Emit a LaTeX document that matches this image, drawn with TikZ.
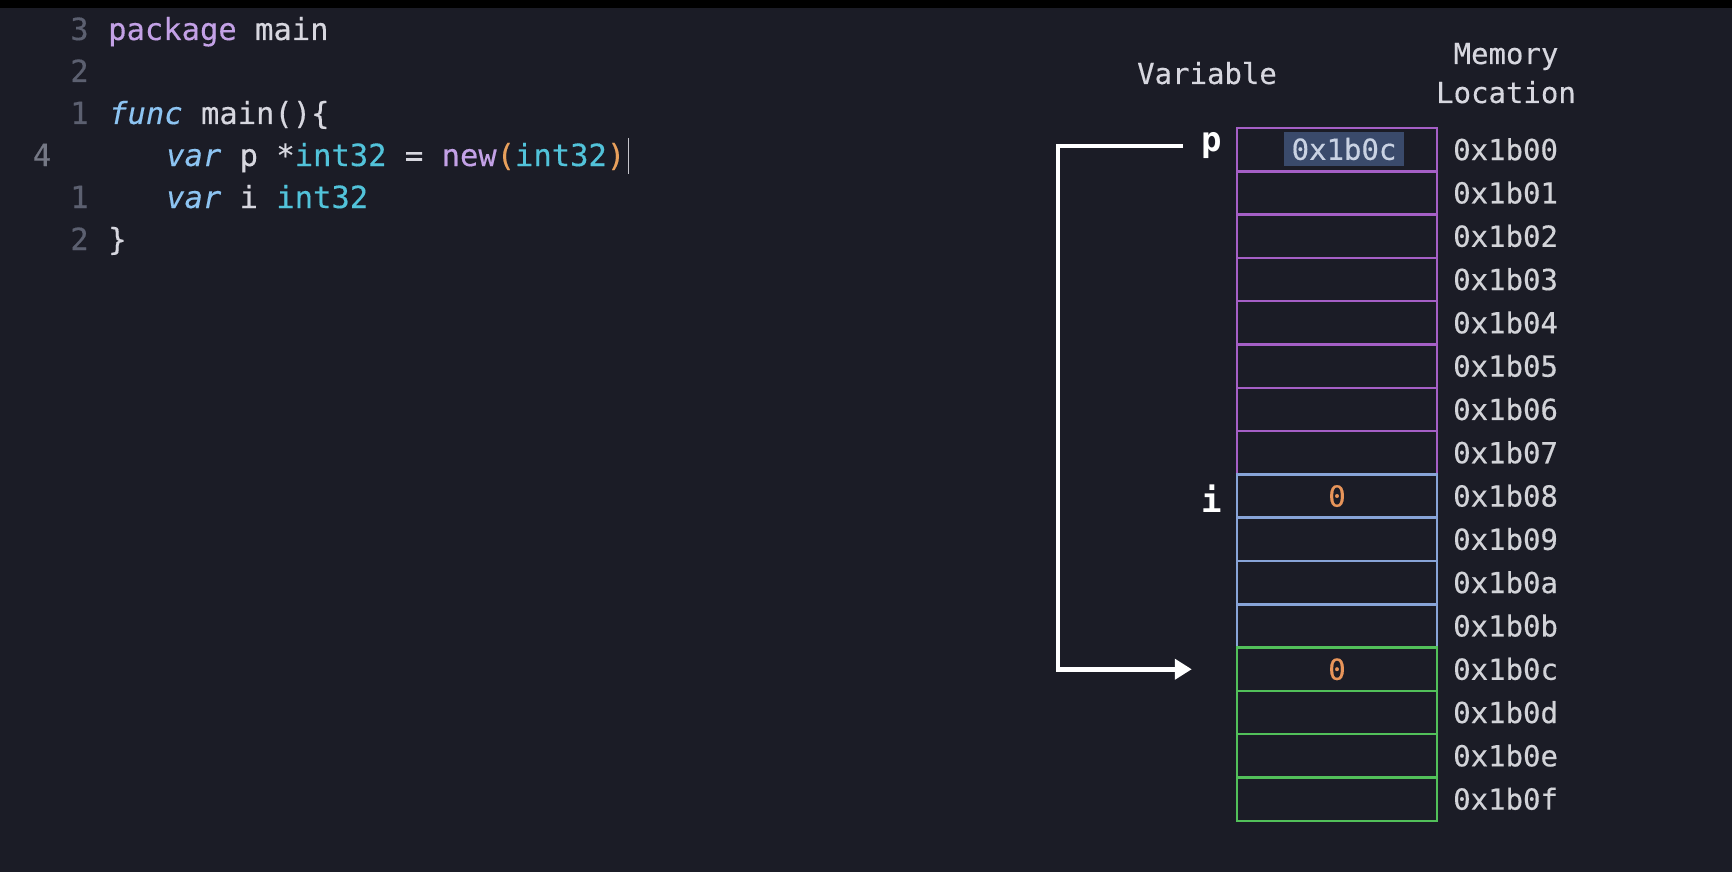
\documentclass[tikz,border=0pt]{standalone}
\usepackage{fontspec}
\usepackage{xcolor}
\usetikzlibrary{arrows.meta}
\newfontfamily\monofont{DejaVu Sans Mono}[ItalicFont={DejaVu Sans Mono Oblique}, FakeBold=0.35]
\newfontfamily\monobold{DejaVu Sans Mono Bold}
\definecolor{bg}{HTML}{1B1C26}
\definecolor{lnum}{HTML}{5C6070}
\definecolor{kwp}{HTML}{C3A1E6}
\definecolor{plain}{HTML}{D7D7DF}
\definecolor{kwb}{HTML}{8DC4F2}
\definecolor{typ}{HTML}{52C3DA}
\definecolor{par}{HTML}{E8A05C}
\definecolor{cpurple}{HTML}{A55FC6}
\definecolor{cblue}{HTML}{88A4D8}
\definecolor{cgreen}{HTML}{52C05A}
\definecolor{addrc}{HTML}{D2D3D8}
\definecolor{hl}{HTML}{3A4A6B}
\definecolor{hltext}{HTML}{C9D2E3}
\definecolor{zero}{HTML}{E8955A}
\tikzset{
  code/.style={inner sep=0pt, anchor=base west, font=\monofont\fontsize{30.5}{36}\selectfont, text=plain},
  lnumst/.style={inner sep=0pt, anchor=base, font=\monofont\fontsize{30.5}{36}\selectfont, text=lnum},
  cell/.style={minimum width=200pt, minimum height=43.3pt, inner sep=0pt, line width=2.5pt},
  addr/.style={inner sep=0pt, anchor=base west, font=\monofont\fontsize{29}{34}\selectfont, text=addrc},
  head/.style={inner sep=0pt, anchor=base, font=\monofont\fontsize{29}{34}\selectfont, text=plain},
  varlab/.style={inner sep=0pt, anchor=base, font=\monobold\fontsize{34}{40}\selectfont, text=white},
  zeroval/.style={inner sep=0pt, font=\monofont\fontsize{29}{34}\selectfont, text=zero},
  ptr/.style={draw=white, line width=4.5pt, -{Triangle[length=17pt,width=20pt]}}
}
\begin{document}
\begin{tikzpicture}[x=1pt,y=-1pt]
\fill[bg] (0,0) rectangle (1732,872);
\fill[black] (0,0) rectangle (1732,8);
\useasboundingbox (0,0) rectangle (1732,872);

% code line numbers
\node[lnumst] (n1) at (79.5,40) {3};
\node[lnumst] (n2) at (79.5,82) {2};
\node[lnumst] (n3) at (79.5,124) {1};
\node[lnumst, text=lnum!85!white] (n4) at (42,166) {4};
\node[lnumst] (n5) at (79.5,208) {1};
\node[lnumst] (n6) at (79.5,250) {2};

% code
\node[code] (l1) at (108,40) {\textcolor{kwp}{package} main};
\node[code] (l3) at (109,124) {\textcolor{kwb}{\itshape func} main()\{};
\node[code] (l4) at (166,166) {\textcolor{kwb}{\itshape var} p *\textcolor{typ}{int32} = \textcolor{kwp}{new}\textcolor{par}{(}\textcolor{typ}{int32}\textcolor{par}{)}};
\node[code] (l5) at (166,208) {\textcolor{kwb}{\itshape var} i \textcolor{typ}{int32}};
\node[code] (l6) at (108,250) {\}};
\draw[line width=1.5pt, draw=plain!80!gray] (628.5,138) -- (628.5,174);

% headers
\node[head] (hv) at (1207,84) {Variable};
\node[head] (hm1) at (1506,64) {Memory};
\node[head] (hm2) at (1506,103) {Location};

% memory cells
\foreach \i in {0,...,7}
  \node[cell, draw=cpurple] (c\i) at (1337,{128+43.3*\i+21.65}) {};
\foreach \i in {8,...,11}
  \node[cell, draw=cblue] (c\i) at (1337,{128+43.3*\i+21.65}) {};
\foreach \i in {12,...,15}
  \node[cell, draw=cgreen] (c\i) at (1337,{128+43.3*\i+21.65}) {};

% addresses
\foreach \i/\h in {0/0,1/1,2/2,3/3,4/4,5/5,6/6,7/7,8/8,9/9,10/a,11/b,12/c,13/d,14/e,15/f}
  \node[addr] (a\i) at (1453,{128+43.3*\i+21.65+10.5}) {0x1b0\h};

% values
\node[fill=hl, minimum width=120pt, minimum height=33pt, inner sep=0pt,
      font=\monofont\fontsize{29}{34}\selectfont, text=hltext] (pv) at (1344,149) {0x1b0c};
\node[zeroval] (iv) at (c8.center) {0};
\node[zeroval] (nv) at (c12.center) {0};

% variable labels
\node[varlab] (pl) at (1212,151) {p};
\node[varlab] (il) at (1212,512) {i};

% pointer arrow
\coordinate (ps) at (1183,146);
\draw[ptr] (ps) -- ++(-125,0) |- ([xshift=-44pt]c12.west);
\end{tikzpicture}
\end{document}
